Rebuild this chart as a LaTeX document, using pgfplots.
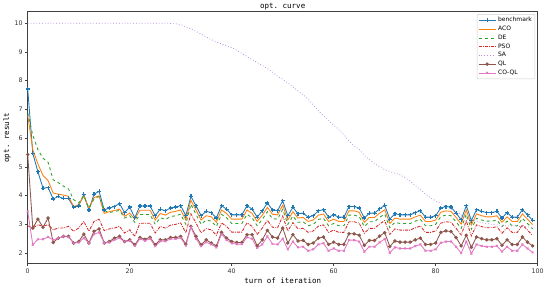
\documentclass[border=0pt]{standalone}
\usepackage{pgfplots}
\usepackage{pgfplotstable}
\pgfplotsset{compat=1.18}
\usepackage{fontspec}
\setmainfont{DejaVu Sans}
\newfontfamily\monofont{DejaVu Sans Mono}
\definecolor{tblue}{HTML}{1F77B4}
\definecolor{torange}{HTML}{FF7F0E}
\definecolor{tgreen}{HTML}{2CA02C}
\definecolor{tred}{HTML}{D62728}
\definecolor{tpurple}{HTML}{B48CDC}
\definecolor{tbrown}{HTML}{8C564B}
\definecolor{tpink}{HTML}{E377C2}
\pgfplotstableread{
i B ACO DE PSO SA QL CO
0 7.71 6.80 6.88 2.95 10.00 5.43 3.45
1 5.47 5.60 6.10 2.87 10.00 2.87 2.29
2 4.83 5.10 5.60 2.99 10.00 3.18 2.48
3 4.26 4.70 5.30 2.93 10.00 2.90 2.48
4 4.28 4.52 5.16 2.99 10.00 3.22 2.56
5 3.88 4.09 4.55 2.81 10.00 2.37 2.46
6 3.97 4.05 4.45 2.87 10.00 2.52 2.52
7 3.90 4.02 4.33 2.87 10.00 2.58 2.58
8 3.90 3.97 4.23 2.93 10.00 2.58 2.56
9 3.60 3.62 3.86 2.76 10.00 2.35 2.35
10 3.64 3.68 3.74 2.87 10.00 2.40 2.37
11 4.04 3.99 3.99 3.10 10.00 2.66 2.52
12 3.50 3.55 3.57 2.76 10.00 2.35 2.35
13 4.05 3.93 3.88 3.10 10.00 2.76 2.66
14 4.15 3.99 3.97 3.18 10.00 2.84 2.72
15 3.50 3.38 3.48 2.78 10.00 2.35 2.35
16 3.57 3.44 3.41 2.84 10.00 2.40 2.37
17 3.62 3.48 3.45 2.87 10.00 2.52 2.46
18 3.72 3.53 3.48 2.93 10.00 2.58 2.52
19 3.41 3.28 3.22 2.70 10.00 2.40 2.40
20 3.60 3.39 3.30 2.81 10.00 2.46 2.43
21 3.23 3.18 3.07 2.58 10.00 2.29 2.25
22 3.64 3.49 3.34 3.04 10.00 2.54 2.49
23 3.64 3.49 3.34 3.04 10.00 2.48 2.43
24 3.64 3.49 3.34 3.04 10.00 2.55 2.50
25 3.30 3.15 3.00 2.70 10.00 2.29 2.24
26 3.53 3.38 3.23 2.93 10.00 2.46 2.41
27 3.47 3.32 3.17 2.87 10.00 2.46 2.41
28 3.57 3.42 3.27 2.97 9.99 2.54 2.49
29 3.60 3.45 3.30 3.00 9.98 2.54 2.49
30 3.65 3.50 3.35 3.05 9.95 2.58 2.53
31 3.30 3.15 3.00 2.70 9.87 2.31 2.26
32 3.97 3.84 3.70 3.37 9.80 2.93 2.90
33 3.65 3.50 3.35 3.05 9.72 2.58 2.50
34 3.30 3.15 3.00 2.70 9.62 2.29 2.24
35 3.45 3.30 3.15 2.85 9.52 2.46 2.38
36 3.41 3.26 3.11 2.81 9.43 2.35 2.30
37 3.22 3.07 2.92 2.62 9.35 2.25 2.20
38 3.65 3.50 3.35 3.05 9.28 2.72 2.66
39 3.53 3.38 3.23 2.93 9.21 2.52 2.46
40 3.33 3.18 3.03 2.73 9.15 2.40 2.34
41 3.33 3.18 3.03 2.73 9.06 2.37 2.31
42 3.33 3.18 3.03 2.73 8.95 2.37 2.31
43 3.65 3.50 3.35 3.05 8.84 2.64 2.55
44 3.53 3.38 3.23 2.93 8.74 2.64 2.50
45 3.25 3.10 2.95 2.65 8.63 2.25 2.18
46 3.47 3.32 3.17 2.87 8.53 2.46 2.30
47 3.74 3.59 3.44 3.14 8.42 2.79 2.58
48 3.50 3.35 3.20 2.90 8.30 2.56 2.32
49 3.48 3.33 3.18 2.88 8.15 2.52 2.30
50 3.82 3.67 3.52 3.29 8.05 2.87 2.50
51 3.30 3.15 3.00 2.77 7.92 2.35 2.13
52 3.59 3.44 3.29 3.06 7.78 2.64 2.40
53 3.37 3.22 3.07 2.84 7.65 2.42 2.20
54 3.39 3.24 3.09 2.86 7.52 2.44 2.22
55 3.25 3.10 2.95 2.72 7.35 2.30 2.08
56 3.30 3.15 3.00 2.77 7.15 2.35 2.13
57 3.47 3.32 3.17 2.94 6.95 2.52 2.30
58 3.51 3.36 3.21 2.98 6.78 2.56 2.34
59 3.25 3.10 2.95 2.72 6.60 2.30 2.08
60 3.33 3.18 3.03 2.80 6.45 2.38 2.16
61 3.25 3.10 2.95 2.72 6.30 2.30 2.08
62 3.25 3.10 2.95 2.72 6.12 2.30 2.08
63 3.62 3.47 3.32 3.09 5.90 2.67 2.45
64 3.62 3.47 3.32 3.09 5.74 2.67 2.45
65 3.57 3.42 3.27 3.04 5.60 2.62 2.40
66 3.22 3.07 2.92 2.69 5.40 2.27 2.05
67 3.39 3.24 3.09 2.86 5.25 2.44 2.22
68 3.39 3.24 3.09 2.86 5.12 2.44 2.22
69 3.54 3.39 3.24 3.01 5.00 2.59 2.37
70 3.66 3.51 3.36 3.13 4.90 2.71 2.49
71 3.18 3.03 2.88 2.65 4.84 2.23 2.01
72 3.37 3.22 3.07 2.84 4.78 2.42 2.20
73 3.33 3.18 3.03 2.80 4.73 2.38 2.16
74 3.33 3.18 3.03 2.80 4.62 2.38 2.16
75 3.33 3.18 3.03 2.80 4.50 2.38 2.16
76 3.41 3.26 3.11 2.88 4.35 2.46 2.24
77 3.47 3.32 3.17 2.94 4.20 2.52 2.30
78 3.25 3.10 2.95 2.72 4.05 2.30 2.08
79 3.25 3.10 2.95 2.72 3.92 2.30 2.08
80 3.30 3.15 3.00 2.77 3.82 2.35 2.13
81 3.57 3.42 3.27 3.04 3.72 2.72 2.36
82 3.62 3.47 3.32 3.09 3.62 2.77 2.40
83 3.60 3.45 3.30 3.07 3.53 2.75 2.40
84 3.39 3.24 3.09 2.86 3.45 2.54 2.22
85 3.16 3.01 2.86 2.63 3.33 2.25 2.00
86 3.65 3.50 3.35 3.12 3.22 2.62 2.40
87 3.13 2.98 2.83 2.60 3.15 2.20 1.98
88 3.51 3.36 3.21 2.98 3.10 2.56 2.30
89 3.45 3.30 3.15 2.92 3.06 2.50 2.25
90 3.41 3.26 3.11 2.88 3.03 2.46 2.22
91 3.41 3.26 3.11 2.88 3.00 2.46 2.22
92 3.45 3.30 3.15 2.92 2.98 2.50 2.25
93 3.22 3.07 2.92 2.69 2.96 2.27 2.05
94 3.41 3.26 3.11 2.88 2.95 2.46 2.22
95 3.25 3.10 2.95 2.72 2.94 2.30 2.08
96 3.25 3.10 2.95 2.72 2.93 2.30 2.08
97 3.51 3.36 3.21 2.98 2.92 2.56 2.30
98 3.33 3.18 3.03 2.80 2.91 2.38 2.16
99 3.14 2.99 2.84 2.61 2.90 2.25 2.02
}\datatable
\begin{document}
\begin{tikzpicture}
\useasboundingbox (-27.7pt,-25pt) rectangle (522.3pt,263.7pt);
\begin{axis}[
  at={(0,0)}, anchor=south west,
  width=510pt, height=252pt, scale only axis,
  xmin=0, xmax=100, ymin=1.63, ymax=10.4,
  xtick={0,20,...,100}, ytick={2,3,...,10},
  axis line style={black!75, line width=0.6pt},
  tick style={black!75, line width=0.5pt},
  tick align=outside, tick pos=left,
  major tick length=2.5pt,
  /pgf/number format/assume math mode=true,
  tick label style={font=\fontsize{6.3}{7}\selectfont, text=black!80},
  xticklabel style={yshift=1pt},
  yticklabel style={xshift=1pt},
  title={\monofont opt.\ curve},
  title style={inner sep=1.5pt, yshift=-6pt, font=\fontsize{7.5}{8}\selectfont},
  xlabel={\monofont turn of iteration},
  ylabel={\monofont opt.\ result},
  xlabel style={font=\fontsize{7.5}{8}\selectfont, yshift=3pt},
  ylabel style={font=\fontsize{7.5}{8}\selectfont, yshift=-3pt},
  legend style={at={(0.995,0.99)}, anchor=north east, draw=black!20, rounded corners=1pt,
    font=\fontsize{6}{6.5}\selectfont, inner sep=1pt, row sep=-1.2pt,
    cells={anchor=west}},
  legend cell align=left,
  every axis plot/.append style={line width=0.85pt},
]
\addplot[color=tblue, mark=+, mark size=2pt, mark options={line width=1.2pt}] table[x=i,y=B]{\datatable};
\addlegendentry{benchmark}
\addplot[color=torange, no marks] table[x=i,y=ACO]{\datatable};
\addlegendentry{ACO}
\addplot[color=tgreen, no marks, dashed] table[x=i,y=DE]{\datatable};
\addlegendentry{DE}
\addplot[color=tred, no marks, dash pattern=on 3pt off 1.2pt on 0.8pt off 1.2pt] table[x=i,y=PSO]{\datatable};
\addlegendentry{PSO}
\addplot[color=tpurple, no marks, dotted, line width=0.7pt] table[x=i,y=SA]{\datatable};
\addlegendentry{SA}
\addplot[color=tbrown, mark=*, mark size=1.3pt] table[x=i,y=QL]{\datatable};
\addlegendentry{QL}
\addplot[color=tpink, mark=x, mark size=1.3pt] table[x=i,y=CO]{\datatable};
\addlegendentry{CO-QL}
\end{axis}
\end{tikzpicture}
\end{document}
